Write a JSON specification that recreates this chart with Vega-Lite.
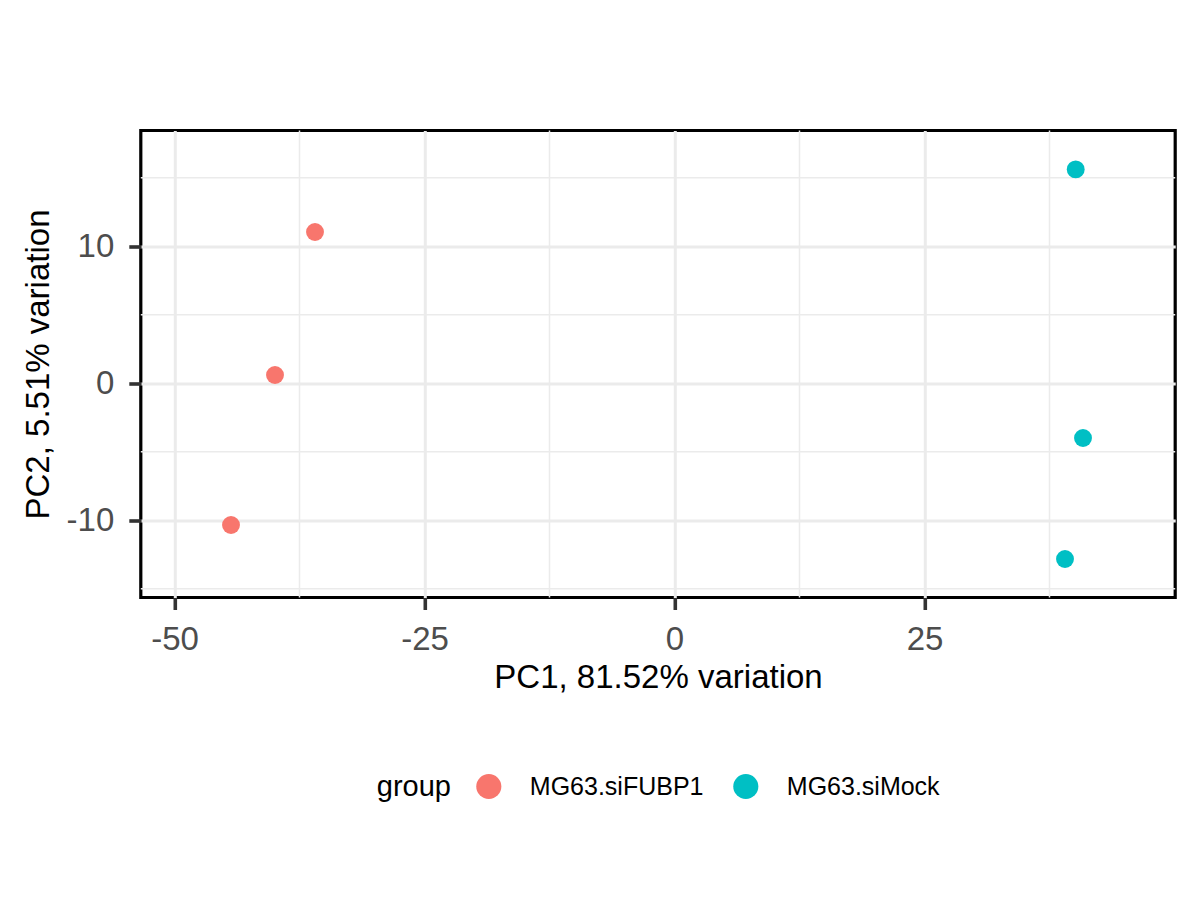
{
  "$schema": "https://vega.github.io/schema/vega-lite/v6.json",
  "width": 1034.4,
  "height": 467,
  "autosize": "none",
  "padding": {"left": 140.8, "top": 130.5, "right": 24.8, "bottom": 302.5},
  "background": "white",
  "config": {
    "font": "Liberation Sans",
    "view": {"stroke": "black", "strokeWidth": 3.2},
    "axis": {
      "domain": false,
      "gridColor": "#EBEBEB",
      "gridWidth": 3,
      "tickColor": "#333333",
      "tickWidth": 3.6,
      "tickSize": 12,
      "labelFontSize": 33,
      "labelColor": "#4D4D4D",
      "labelOverlap": false,
      "labelFlush": false,
      "titleFontSize": 33,
      "titleFontWeight": "normal",
      "titleColor": "black",
      "titleBaseline": "alphabetic"
    }
  },
  "datasets": {
    "pca": [
      {"sample": "1", "PC1": -35.95, "PC2": 11.04, "group": "MG63.siFUBP1"},
      {"sample": "2", "PC1": -39.95, "PC2": 0.6, "group": "MG63.siFUBP1"},
      {"sample": "3", "PC1": -44.35, "PC2": -10.35, "group": "MG63.siFUBP1"},
      {"sample": "4", "PC1": 40.12, "PC2": 15.61, "group": "MG63.siMock"},
      {"sample": "5", "PC1": 40.85, "PC2": -4.0, "group": "MG63.siMock"},
      {"sample": "6", "PC1": 39.05, "PC2": -12.83, "group": "MG63.siMock"}
    ],
    "minorX": [{"v": -37.5}, {"v": -12.5}, {"v": 12.5}, {"v": 37.5}],
    "minorY": [{"v": -15}, {"v": -5}, {"v": 5}, {"v": 15}]
  },
  "layer": [
    {
      "data": {"name": "minorX"},
      "mark": {"type": "rule", "color": "#EBEBEB", "strokeWidth": 1.5},
      "encoding": {
        "x": {"field": "v", "type": "quantitative"}
      }
    },
    {
      "data": {"name": "minorY"},
      "mark": {"type": "rule", "color": "#EBEBEB", "strokeWidth": 1.5},
      "encoding": {
        "y": {"field": "v", "type": "quantitative"}
      }
    },
    {
      "data": {"name": "pca"},
      "mark": {"type": "circle", "size": 320, "opacity": 1},
      "encoding": {
        "x": {
          "field": "PC1",
          "type": "quantitative",
          "title": "PC1, 81.52% variation",
          "scale": {"domain": [-53.37, 50.07], "nice": false, "zero": false},
          "axis": {
            "values": [-50, -25, 0, 25],
            "labelExpr": "'' + datum.value",
            "labelPadding": 14,
            "titleY": 89.5
          }
        },
        "y": {
          "field": "PC2",
          "type": "quantitative",
          "title": "PC2, 5.51% variation",
          "scale": {"domain": [-15.64, 18.45], "nice": false, "zero": false},
          "axis": {
            "values": [-10, 0, 10],
            "labelExpr": "'' + datum.value",
            "labelPadding": 15,
            "titleX": -92.8,
            "titleY": 233.5
          }
        },
        "color": {
          "field": "group",
          "type": "nominal",
          "scale": {"domain": ["MG63.siFUBP1", "MG63.siMock"], "range": ["#F8766D", "#00BFC4"]},
          "legend": {
            "orient": "none",
            "legendX": 236,
            "legendY": 643,
            "direction": "horizontal",
            "title": "group",
            "titleOrient": "left",
            "titleFontSize": 29,
            "titleFontWeight": "normal",
            "titleColor": "black",
            "titlePadding": 24,
            "labelFontSize": 25,
            "labelColor": "black",
            "labelLimit": 0,
            "labelOffset": 28,
            "columnPadding": 29,
            "symbolType": "circle",
            "symbolSize": 630,
            "symbolOpacity": 1,
            "symbolStrokeWidth": 0
          }
        }
      }
    }
  ]
}
